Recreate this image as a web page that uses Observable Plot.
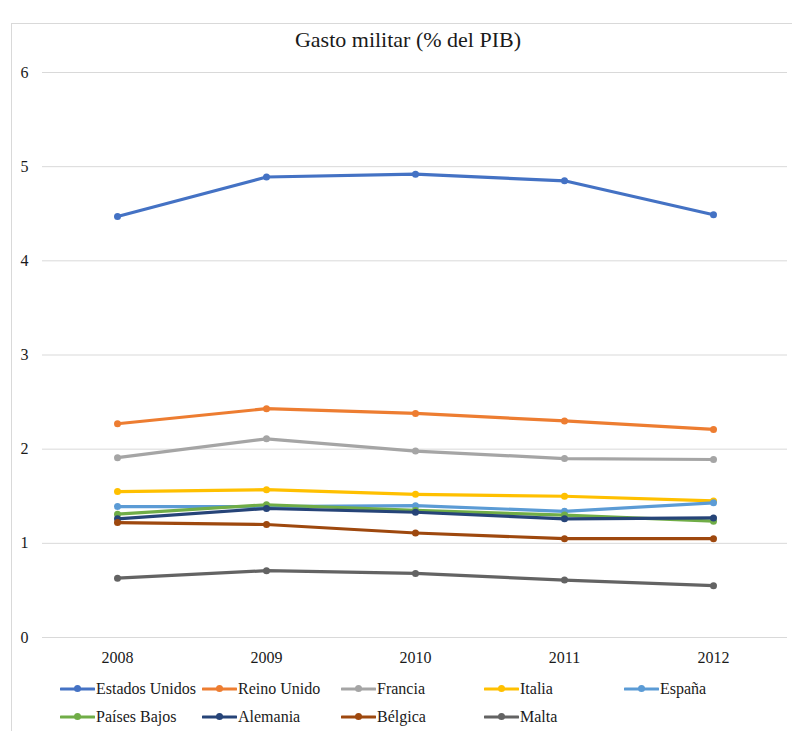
<!DOCTYPE html>
<html>
<head>
<meta charset="utf-8">
<script src="https://cdn.jsdelivr.net/npm/d3@7"></script>
<script src="https://cdn.jsdelivr.net/npm/@observablehq/plot@0.6"></script>
<style>
  body { margin: 0; background: #fff; }
  #wrap { position: relative; width: 792px; height: 731px; overflow: hidden; font-family: "Liberation Serif", "Times New Roman", serif; color: #1a1a1a; }
  #frame { position: absolute; left: 11px; top: 23px; width: 900px; height: 900px; border: 1px solid #d9d9d9; box-sizing: border-box; }
  #title { position: absolute; left: 11px; width: 794px; top: 27px; text-align: center; font-size: 22px; font-family: "Liberation Serif", "Times New Roman", serif; }
  #plot { position: absolute; left: 0; top: 0; }
  .lg { position: absolute; display: flex; align-items: center; font-size: 16px; white-space: nowrap; font-family: "Liberation Serif", "Times New Roman", serif; }
  .lg svg { margin-right: 1px; }
</style>
</head>
<body>
<div id="wrap">
  <div id="frame"></div>
  <div id="title">Gasto militar (% del PIB)</div>
  <div id="plot"></div>
  <div id="legend"></div>
</div>
<script>
const years = ["2008", "2009", "2010", "2011", "2012"];
const countries = ["Estados Unidos", "Reino Unido", "Francia", "Italia", "España", "Países Bajos", "Alemania", "Bélgica", "Malta"];
const colors = ["#4472C4", "#ED7D31", "#A5A5A5", "#FFC000", "#5B9BD5", "#70AD47", "#264478", "#9E480E", "#636363"];
const estadosUnidos = [4.47, 4.89, 4.92, 4.85, 4.49];
const reinoUnido   = [2.27, 2.43, 2.38, 2.30, 2.21];
const francia      = [1.91, 2.11, 1.98, 1.90, 1.89];
const italia       = [1.55, 1.57, 1.52, 1.50, 1.45];
const espana       = [1.39, 1.39, 1.40, 1.34, 1.43];
const paisesBajos  = [1.31, 1.41, 1.35, 1.30, 1.235];
const alemania     = [1.26, 1.37, 1.33, 1.26, 1.27];
const belgica      = [1.22, 1.20, 1.11, 1.05, 1.05];
const malta        = [0.63, 0.71, 0.68, 0.61, 0.55];
const yTicks = [0, 1, 2, 3, 4, 5, 6];

const series = [estadosUnidos, reinoUnido, francia, italia, espana, paisesBajos, alemania, belgica, malta];
const data = [];
series.forEach((vals, i) => vals.forEach((v, j) => data.push({country: countries[i], year: years[j], value: v})));

const serif = "'Liberation Serif', 'Times New Roman', serif";
const plot = Plot.plot({
  width: 792,
  height: 680,
  marginLeft: 42,
  marginRight: 5,
  marginTop: 72,
  marginBottom: 43,
  style: { fontFamily: serif, fontSize: "16px", color: "#1a1a1a", background: "transparent", overflow: "visible" },
  x: { type: "point", domain: years, padding: 0.5, label: null },
  y: { domain: [0, 6], ticks: yTicks, label: null },
  color: { domain: countries, range: colors },
  marks: [
    Plot.gridY(yTicks, { stroke: "#d9d9d9", strokeOpacity: 1, strokeWidth: 1 }),
    Plot.axisY(yTicks, { tickSize: 0, tickPadding: 14, fontSize: 16, fontFamily: serif, tickFormat: d => String(d) }),
    Plot.axisX({ tickSize: 0, tickPadding: 14, fontSize: 16, fontFamily: serif }),
    ...countries.map((c, i) => [
      Plot.line(data.filter(d => d.country === c), { x: "year", y: "value", stroke: colors[i], strokeWidth: 3.2, curve: "linear" }),
      Plot.dot(data.filter(d => d.country === c), { x: "year", y: "value", fill: colors[i], r: 3.5 })
    ]).flat()
  ]
});
document.getElementById("plot").appendChild(plot);

// legend
const lx = [60, 202, 341, 484, 624];
const ly = [689, 717];
const legend = document.getElementById("legend");
countries.forEach((c, i) => {
  const row = Math.floor(i / 5), col = i % 5;
  const div = document.createElement("div");
  div.className = "lg";
  div.style.left = lx[col] + "px";
  div.style.top = (ly[row] - 10) + "px";
  div.style.height = "20px";
  div.innerHTML = `<svg width="35" height="10"><line x1="1" y1="5" x2="34" y2="5" stroke="${colors[i]}" stroke-width="3" stroke-linecap="round"/><circle cx="17.5" cy="4.5" r="3.5" fill="${colors[i]}"/></svg><span>${c}</span>`;
  legend.appendChild(div);
});
</script>
</body>
</html>
